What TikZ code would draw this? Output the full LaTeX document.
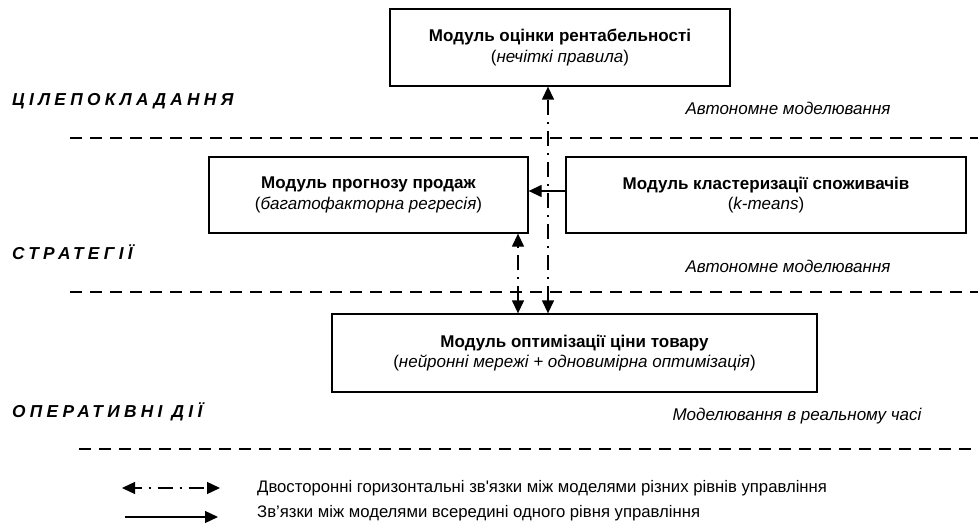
\documentclass[tikz,border=0pt]{standalone}
\usepackage{fontspec}
\newfontfamily\af{Liberation Sans}
\newfontfamily\lsf{Liberation Sans}[LetterSpace=25]
\usetikzlibrary{arrows.meta}
\tikzset{
  every node/.style={font=\af\fontsize{17}{20.5}\selectfont, inner sep=0pt},
  box/.style={draw, line width=1.3pt, align=center},
  level/.style={anchor=west, font=\lsf\fontsize{17.3}{20}\selectfont\bfseries\itshape},
  mode/.style={font=\af\fontsize{17}{20}\selectfont\itshape},
  sep/.style={line width=1.3pt, dash pattern=on 12pt off 8pt},
  tip/.tip={Triangle[length=13pt,width=12pt]},
  dd/.style={line width=1.3pt, dash pattern=on 15pt off 7pt on 2pt off 7pt, tip-tip},
  sa/.style={line width=1.3pt, -tip},
  legtxt/.style={anchor=west, font=\af\fontsize{16.7}{20}\selectfont}
}
\begin{document}
\begin{tikzpicture}[x=1pt,y=-1pt]
\useasboundingbox (0,0) rectangle (978,524);
% separators
\coordinate (s1a) at (70,138); \coordinate (s1b) at (978,138);
\coordinate (s2a) at (70,292); \coordinate (s2b) at (978,292);
\coordinate (s3a) at (79,449); \coordinate (s3b) at (978,449);
\draw[sep] (s1a) -- (s1b);
\draw[sep] (s2a) -- (s2b);
\draw[sep] (s3a) -- (s3b);
% level labels
\node[level] (l1) at (12,101) {ЦІЛЕПОКЛАДАННЯ};
\node[level] (l2) at (12,252) {СТРАТЕГІЇ};
\node[level] (l3) at (12,412) {ОПЕРАТИВНІ ДІЇ};
\node[mode] (m1) at (788,108) {Автономне моделювання};
\node[mode] (m2) at (788,266) {Автономне моделювання};
\node[mode] (m3) at (797,416) {Моделювання в реальному часі};
% boxes
\node[box, minimum width=340pt, minimum height=77pt] (top) at (560,47.5)
  {\textbf{Модуль оцінки рентабельності}\\(\textit{нечіткі правила})};
\node[box, minimum width=319pt, minimum height=76pt] (prog) at (368.5,195)
  {\textbf{Модуль прогнозу продаж}\\(\textit{багатофакторна регресія})};
\node[box, minimum width=400pt, minimum height=76pt] (klas) at (766,195)
  {\textbf{Модуль кластеризації споживачів}\\(\textit{k-means})};
\node[box, minimum width=485pt, minimum height=78pt] (bot) at (574.5,353)
  {\textbf{Модуль оптимізації ціни товару}\\(\textit{нейронні мережі + одновимірна оптимізація})};
% connectors
\coordinate (v1) at (548,0);
\coordinate (v2) at (518,0);
\coordinate (h1) at (0,191);
\draw[dd] (bot.north -| v1) -- (top.south -| v1);
\draw[dd] (bot.north -| v2) -- (prog.south -| v2);
\draw[sa] (klas.west |- h1) -- (prog.east |- h1);
% legend
\coordinate (la) at (122,488); \coordinate (lb) at (220,488);
\coordinate (lc) at (125,517); \coordinate (ld) at (218,517);
\draw[dd, dash phase=8pt] (la) -- (lb);
\draw[sa] (lc) -- (ld);
\node[legtxt] (t1) at (257,488) {Двосторонні горизонтальні зв'язки між моделями різних рівнів управління};
\node[legtxt] (t2) at (257,513) {Зв’язки між моделями всередині одного рівня управління};
\end{tikzpicture}
\end{document}
